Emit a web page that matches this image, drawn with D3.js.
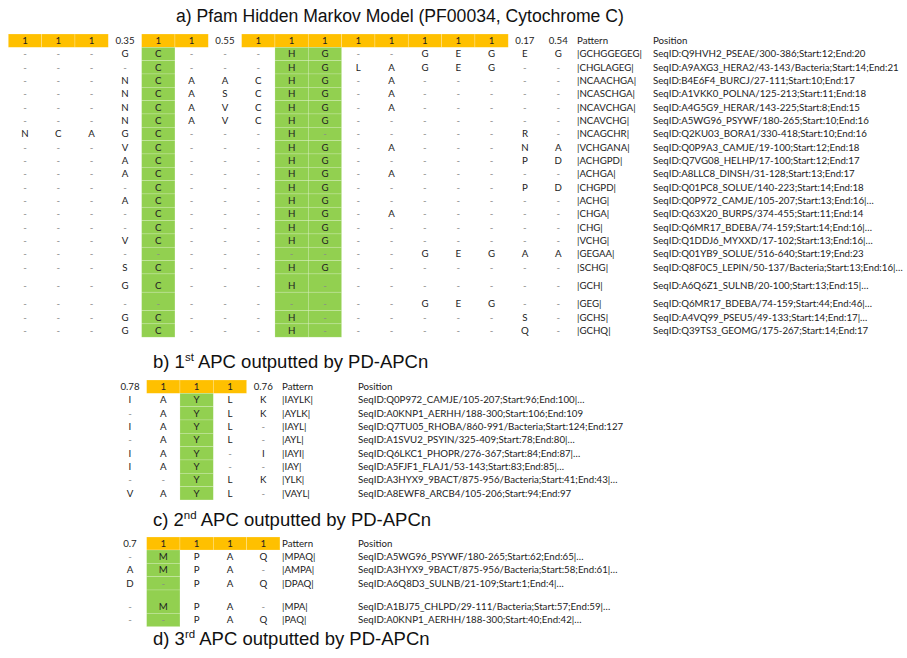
<!DOCTYPE html>
<html>
<head>
<meta charset="utf-8">
<script src="https://cdn.jsdelivr.net/npm/d3@7"></script>
<style>
  html, body { margin: 0; padding: 0; background: #fff; }
  svg { display: block; }
</style>
</head>
<body>
<svg id="chart" width="907" height="658"></svg>
<script>
// ---------------- DATA ----------------
const titleA = "a) Pfam Hidden Markov Model (PF00034, Cytochrome C)";
const titleB = ["b) 1", "st", " APC outputted by PD-APCn"];
const titleC = ["c) 2", "nd", " APC outputted by PD-APCn"];
const titleD = ["d) 3", "rd", " APC outputted by PD-APCn"];

// Section a: column scores (header) and aligned residues per sequence
const aHeader = ["1","1","1","0.35","1","1","0.55","1","1","1","1","1","1","1","1","0.17","0.54"];
const aGreenCols = [4, 8, 9];
const aRows = [
  "---GC---HG--GEGEG",
  "----C---HGLAGEG--",
  "---NCAACHG-A-----",
  "---NCASCHG-A-----",
  "---NCAVCHG-A-----",
  "---NCAVCHG-------",
  "NCAGC---H------R-",
  "---VC---HG-A---NA",
  "---AC---HG-----PD",
  "---AC---HG-A-----",
  "----C---HG-----PD",
  "---AC---HG-------",
  "----C---HG-A-----",
  "----C---HG-------",
  "---VC---HG-------",
  "------------GEGAA",
  "---SC---HG-------",
  "---GC---H--------",
  "------------GEG--",
  "---GC---H------S-",
  "---GC---H------Q-"
];
const aPatterns = ["|GCHGGEGEG|","|CHGLAGEG|","|NCAACHGA|","|NCASCHGA|","|NCAVCHGA|","|NCAVCHG|",
  "|NCAGCHR|","|VCHGANA|","|ACHGPD|","|ACHGA|","|CHGPD|","|ACHG|","|CHGA|","|CHG|","|VCHG|",
  "|GEGAA|","|SCHG|","|GCH|","|GEG|","|GCHS|","|GCHQ|"];
const aPositions = [
  "SeqID:Q9HVH2_PSEAE/300-386;Start:12;End:20",
  "SeqID:A9AXG3_HERA2/43-143/Bacteria;Start:14;End:21",
  "SeqID:B4E6F4_BURCJ/27-111;Start:10;End:17",
  "SeqID:A1VKK0_POLNA/125-213;Start:11;End:18",
  "SeqID:A4G5G9_HERAR/143-225;Start:8;End:15",
  "SeqID:A5WG96_PSYWF/180-265;Start:10;End:16",
  "SeqID:Q2KU03_BORA1/330-418;Start:10;End:16",
  "SeqID:Q0P9A3_CAMJE/19-100;Start:12;End:18",
  "SeqID:Q7VG08_HELHP/17-100;Start:12;End:17",
  "SeqID:A8LLC8_DINSH/31-128;Start:13;End:17",
  "SeqID:Q01PC8_SOLUE/140-223;Start:14;End:18",
  "SeqID:Q0P972_CAMJE/105-207;Start:13;End:16|…",
  "SeqID:Q63X20_BURPS/374-455;Start:11;End:14",
  "SeqID:Q6MR17_BDEBA/74-159;Start:14;End:16|…",
  "SeqID:Q1DDJ6_MYXXD/17-102;Start:13;End:16|…",
  "SeqID:Q01YB9_SOLUE/516-640;Start:19;End:23",
  "SeqID:Q8F0C5_LEPIN/50-137/Bacteria;Start:13;End:16|…",
  "SeqID:A6Q6Z1_SULNB/20-100;Start:13;End:15|…",
  "SeqID:Q6MR17_BDEBA/74-159;Start:44;End:46|…",
  "SeqID:A4VQ99_PSEU5/49-133;Start:14;End:17|…",
  "SeqID:Q39TS3_GEOMG/175-267;Start:14;End:17"
];

// Section b
const bHeader = ["0.78","1","1","1","0.76"];
const bGreenCols = [2];
const bRows = ["IAYLK","-AYLK","IAYL-","-AYL-","IAY-I","IAY--","--YLK","VAYL-"];
const bPatterns = ["|IAYLK|","|AYLK|","|IAYL|","|AYL|","|IAYI|","|IAY|","|YLK|","|VAYL|"];
const bPositions = [
  "SeqID:Q0P972_CAMJE/105-207;Start:96;End:100|…",
  "SeqID:A0KNP1_AERHH/188-300;Start:106;End:109",
  "SeqID:Q7TU05_RHOBA/860-991/Bacteria;Start:124;End:127",
  "SeqID:A1SVU2_PSYIN/325-409;Start:78;End:80|…",
  "SeqID:Q6LKC1_PHOPR/276-367;Start:84;End:87|…",
  "SeqID:A5FJF1_FLAJ1/53-143;Start:83;End:85|…",
  "SeqID:A3HYX9_9BACT/875-956/Bacteria;Start:41;End:43|…",
  "SeqID:A8EWF8_ARCB4/105-206;Start:94;End:97"
];

// Section c
const cHeader = ["0.7","1","1","1","1"];
const cGreenCols = [1];
const cRows = ["-MPAQ","AMPA-","D-PAQ","-MPA-","--PAQ"];
const cPatterns = ["|MPAQ|","|AMPA|","|DPAQ|","|MPA|","|PAQ|"];
const cPositions = [
  "SeqID:A5WG96_PSYWF/180-265;Start:62;End:65|…",
  "SeqID:A3HYX9_9BACT/875-956/Bacteria;Start:58;End:61|…",
  "SeqID:A6Q8D3_SULNB/21-109;Start:1;End:4|…",
  "SeqID:A1BJ75_CHLPD/29-111/Bacteria;Start:57;End:59|…",
  "SeqID:A0KNP1_AERHH/188-300;Start:40;End:42|…"
];

// ---------------- LAYOUT / STYLE ----------------
const ORANGE = "#FFC000", GREEN = "#92D050";
const TABLE_FONT = "Lato, 'Noto Sans', sans-serif";
const TITLE_FONT = "'Liberation Sans', Arial, sans-serif";
const FS = 9.7;
const CELL_W = 33.33, ROW_H = 13.33;

const svg = d3.select("#chart");

function drawTitle(parts, x, y, size) {
  const t = svg.append("text").attr("x", x).attr("y", y)
    .attr("font-family", TITLE_FONT).attr("font-size", size).attr("fill", "#111");
  if (typeof parts === "string") { t.text(parts); return t; }
  t.append("tspan").text(parts[0]);
  t.append("tspan").attr("font-size", size * 0.62).attr("dy", -size * 0.38).text(parts[1]);
  t.append("tspan").attr("dy", size * 0.38).text(parts[2]);
  return t;
}

function drawTable(opts) {
  const { header, rows, patterns, positions, greenCols, x0, top, rowHeights, patternX, positionX, headerH } = opts;
  const nCols = header.length;
  const g = svg.append("g");
  const x = d3.scaleBand().domain(d3.range(nCols)).range([x0, x0 + nCols * CELL_W]).padding(0);
  const heights = [headerH].concat(rowHeights);
  const bounds = [top].concat(Array.from(d3.cumsum(heights), v => top + v));
  const rowTop = i => bounds[i + 1];
  const rowBot = i => bounds[i + 2];
  const textY = bot => bot - 6.7;

  g.selectAll("rect.h").data(header.map((v, i) => ({ v, i })).filter(d => +d.v === 1))
    .join("rect")
    .attr("x", d => x(d.i)).attr("y", bounds[0])
    .attr("width", x.bandwidth()).attr("height", headerH)
    .attr("fill", ORANGE).attr("stroke", "rgba(255,255,255,0.35)").attr("stroke-width", 0.6);

  const greenCells = [];
  rows.forEach((r, ri) => greenCols.forEach(ci => greenCells.push({ ri, ci })));
  g.selectAll("rect.g").data(greenCells).join("rect")
    .attr("x", d => x(d.ci)).attr("y", d => rowTop(d.ri))
    .attr("width", x.bandwidth()).attr("height", d => rowBot(d.ri) - rowTop(d.ri))
    .attr("fill", GREEN).attr("stroke", "rgba(255,255,255,0.3)").attr("stroke-width", 0.6);

  const txt = sel => sel.attr("dy", "0.35em").attr("font-family", TABLE_FONT)
    .attr("font-size", FS).attr("fill", "#222");

  g.selectAll("text.h").data(header.map((v, i) => ({ v, i }))).join("text")
    .attr("x", d => x(d.i) + x.bandwidth() / 2).attr("y", textY(bounds[1]))
    .attr("text-anchor", "middle").call(txt).text(d => d.v);
  g.append("text").attr("x", patternX).attr("y", textY(bounds[1])).call(txt).text("Pattern");
  g.append("text").attr("x", positionX).attr("y", textY(bounds[1])).call(txt).text("Position");

  const cells = [];
  rows.forEach((r, ri) => r.split("").forEach((c, ci) => cells.push({ c, ri, ci })));
  g.selectAll("text.c").data(cells).join("text")
    .attr("x", d => x(d.ci) + x.bandwidth() / 2).attr("y", d => textY(rowBot(d.ri)))
    .attr("text-anchor", "middle").call(txt)
    .attr("fill", d => d.c === "-" ? "#8a8a8a" : "#222")
    .text(d => d.c);

  g.selectAll("text.p").data(patterns).join("text")
    .attr("x", patternX).attr("y", (d, i) => textY(rowBot(i))).call(txt).text(d => d);
  g.selectAll("text.s").data(positions).join("text")
    .attr("x", positionX).attr("y", (d, i) => textY(rowBot(i))).call(txt).text(d => d);
}

// Titles
drawTitle(titleA, 176, 22, 17.6);
drawTitle(titleB, 153, 368, 18.5);
drawTitle(titleC, 153, 526, 18.5);
drawTitle(titleD, 153, 645, 18.5);

// Section a table
const aHeights = aRows.map((r, i) => (i === 17 || i === 18) ? 18.3 : ROW_H);
drawTable({ header: aHeader, rows: aRows, patterns: aPatterns, positions: aPositions,
  greenCols: aGreenCols, x0: 8.3, top: 34, headerH: 13.3, rowHeights: aHeights,
  patternX: 577, positionX: 653 });

// Section b table
drawTable({ header: bHeader, rows: bRows, patterns: bPatterns, positions: bPositions,
  greenCols: bGreenCols, x0: 113.3, top: 380, headerH: 13.3, rowHeights: bRows.map(() => ROW_H),
  patternX: 282, positionX: 358 });

// Section c table
const cHeights = cRows.map((r, i) => i === 3 ? 23.3 : ROW_H);
drawTable({ header: cHeader, rows: cRows, patterns: cPatterns, positions: cPositions,
  greenCols: cGreenCols, x0: 113.3, top: 537, headerH: 13, rowHeights: cHeights,
  patternX: 282, positionX: 358 });
</script>
</body>
</html>
